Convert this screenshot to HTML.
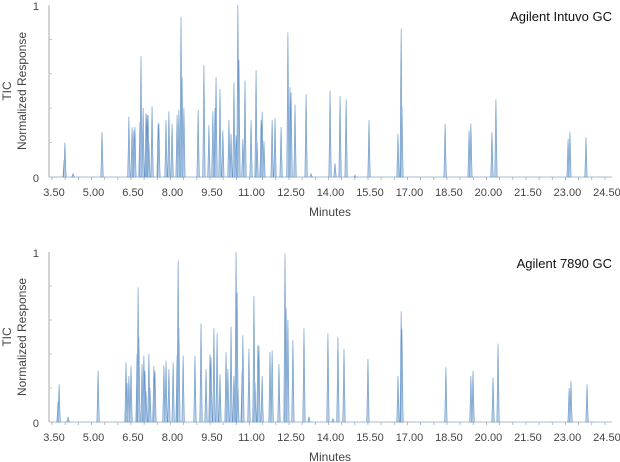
<!DOCTYPE html>
<html><head><meta charset="utf-8">
<style>
html,body{margin:0;padding:0;background:#fff;}
svg{display:block;font-family:"Liberation Sans Narrow","Liberation Sans",sans-serif;}
</style></head>
<body>
<svg id="chart" width="620" height="462" viewBox="0 0 620 462"></svg>
<script>
const tickLabels = ["3.50","5.00","6.50","8.00","9.50","11.00","12.50","14.00","15.50","17.00","18.50","20.00","21.50","23.00","24.50"];
const topTimes = [3.96,3.99,4.30,5.40,6.42,6.54,6.61,6.65,6.84,6.88,6.96,7.07,7.11,7.15,7.18,7.30,7.53,7.56,7.83,7.94,8.06,8.25,8.32,8.40,8.44,8.51,9.05,9.27,9.46,9.61,9.69,9.73,9.88,9.99,10.22,10.30,10.41,10.49,10.56,10.60,10.75,10.83,11.06,11.25,11.29,11.44,11.48,11.55,11.86,11.97,12.20,12.46,12.54,12.58,12.73,13.15,13.34,14.06,14.25,14.44,14.67,15.01,15.54,16.64,16.76,16.79,18.43,19.34,19.41,20.21,20.36,23.10,23.17,23.78];
const topHeights = [.10,.20,.02,.26,.35,.29,.27,.29,.32,.70,.40,.37,.36,.36,.20,.41,.31,.31,.33,.38,.31,.36,.39,.93,.58,.40,.39,.65,.30,.38,.40,.58,.51,.27,.33,.25,.55,.24,1.0,.68,.22,.56,.33,.62,.20,.33,.38,.21,.33,.34,.29,.84,.52,.49,.42,.48,.02,.50,.08,.47,.45,.01,.33,.25,.86,.41,.31,.27,.31,.26,.45,.22,.26,.23];
const botTimes = [3.73,3.77,4.11,5.25,6.31,6.35,6.42,6.50,6.73,6.77,6.80,6.92,6.99,7.03,7.07,7.18,7.22,7.37,7.41,7.75,7.83,7.94,8.10,8.25,8.29,8.32,8.48,8.93,9.16,9.35,9.50,9.54,9.65,9.77,9.88,10.11,10.18,10.30,10.41,10.49,10.53,10.56,10.72,10.75,10.98,11.17,11.21,11.32,11.36,11.48,11.78,11.86,12.12,12.35,12.39,12.46,12.65,13.07,13.26,13.98,14.17,14.36,14.59,15.50,16.64,16.76,16.79,18.46,19.41,19.49,20.25,20.44,23.14,23.21,23.82];
const botHeights = [.12,.22,.03,.30,.35,.23,.27,.33,.40,.79,.50,.34,.39,.30,.18,.40,.20,.33,.30,.33,.36,.31,.35,.39,.95,.55,.39,.39,.58,.31,.40,.38,.55,.52,.28,.41,.31,.56,.27,1.0,.76,.20,.30,.51,.43,.74,.23,.45,.45,.27,.41,.42,.34,.99,.67,.60,.48,.55,.03,.52,.02,.50,.43,.37,.27,.65,.55,.32,.27,.30,.26,.46,.20,.24,.22];

const svg = document.getElementById('chart');
const NS = 'http://www.w3.org/2000/svg';
const X0 = 52, PXMIN = 26.33;
function xScale(t){ return X0 + (t - 3.5) * PXMIN; }
function mk(tag, attrs, parent){
  const e = document.createElementNS(NS, tag);
  for (const k in attrs) e.setAttribute(k, attrs[k]);
  (parent || svg).appendChild(e);
  return e;
}
function panel(name, yBase, yTop, times, heights, title){
  const g = mk('g', {});
  
  
  const yS = v => yBase - v * (yBase - yTop);
  const ya = mk('line', {x1:49, y1:yTop, x2:49, y2:yBase, stroke:'#aaa', 'stroke-width':1}, g);
  
  
  for (let v = 0.2; v < 1; v += 0.2) mk('line', {x1:49, y1:yS(v), x2:52, y2:yS(v), stroke:'#bbb', 'stroke-width':0.8}, g);
  const xa = mk('line', {x1:49, y1:yBase, x2:612, y2:yBase, stroke:'#a8bccf', 'stroke-width':1}, g);
  
  
  for (let t = 3.5; t <= 24.75; t += 0.5) mk('line', {x1:xScale(t), y1:yBase, x2:xScale(t), y2:yBase+3, stroke:'#aaa', 'stroke-width':0.8}, g);
  tickLabels.forEach(l => {
    const tx = mk('text', {x:xScale(parseFloat(l))+2, y:yBase+19, 'text-anchor':'middle', 'font-size':11, fill:'#444'}, g);
    tx.textContent = l;
    
    
  });
  const xt = mk('text', {x:330, y:yBase+39, 'text-anchor':'middle', 'font-size':12, fill:'#444'}, g);
  xt.textContent = 'Minutes';
  
  
  const t1 = mk('text', {x:39, y:yTop+5, 'text-anchor':'end', 'font-size':11, fill:'#444'}, g); t1.textContent = '1';
  
  
  const t0 = mk('text', {x:39, y:yBase+5, 'text-anchor':'end', 'font-size':11, fill:'#444'}, g); t0.textContent = '0';
  
  
  const cy = (yBase + yTop) / 2;
  const yt = mk('text', {x:0, y:0, transform:`translate(11,${cy}) rotate(-90)`, 'text-anchor':'middle', 'font-size':12, fill:'#444'}, g);
  yt.textContent = 'TIC';
  
  
  const yt2 = mk('text', {x:0, y:0, transform:`translate(26,${cy}) rotate(-90)`, 'text-anchor':'middle', 'font-size':12, fill:'#444'}, g);
  yt2.textContent = 'Normalized Response';
  
  
  const tt = mk('text', {x:612, y:yTop+16, 'text-anchor':'end', 'font-size':13, 'font-weight':500, fill:'#111'}, g);
  tt.textContent = title;
  
  
  times.forEach((t, i) => {
    const x = xScale(t), y = yS(heights[i]);
    const p = mk('path', {d:`M${x-1.2},${yBase} L${x},${y} L${x+1.2},${yBase} Z`, fill:'#bcd2ea', stroke:'#6393c6', 'stroke-width':0.6, 'stroke-linejoin':'round'}, g);
    
    
  });
}
panel('intuvo-chromatogram', 177, 5, topTimes, topHeights, 'Agilent Intuvo GC');
panel('gc7890-chromatogram', 422, 252, botTimes, botHeights, 'Agilent 7890 GC');
</script>
</body></html>
